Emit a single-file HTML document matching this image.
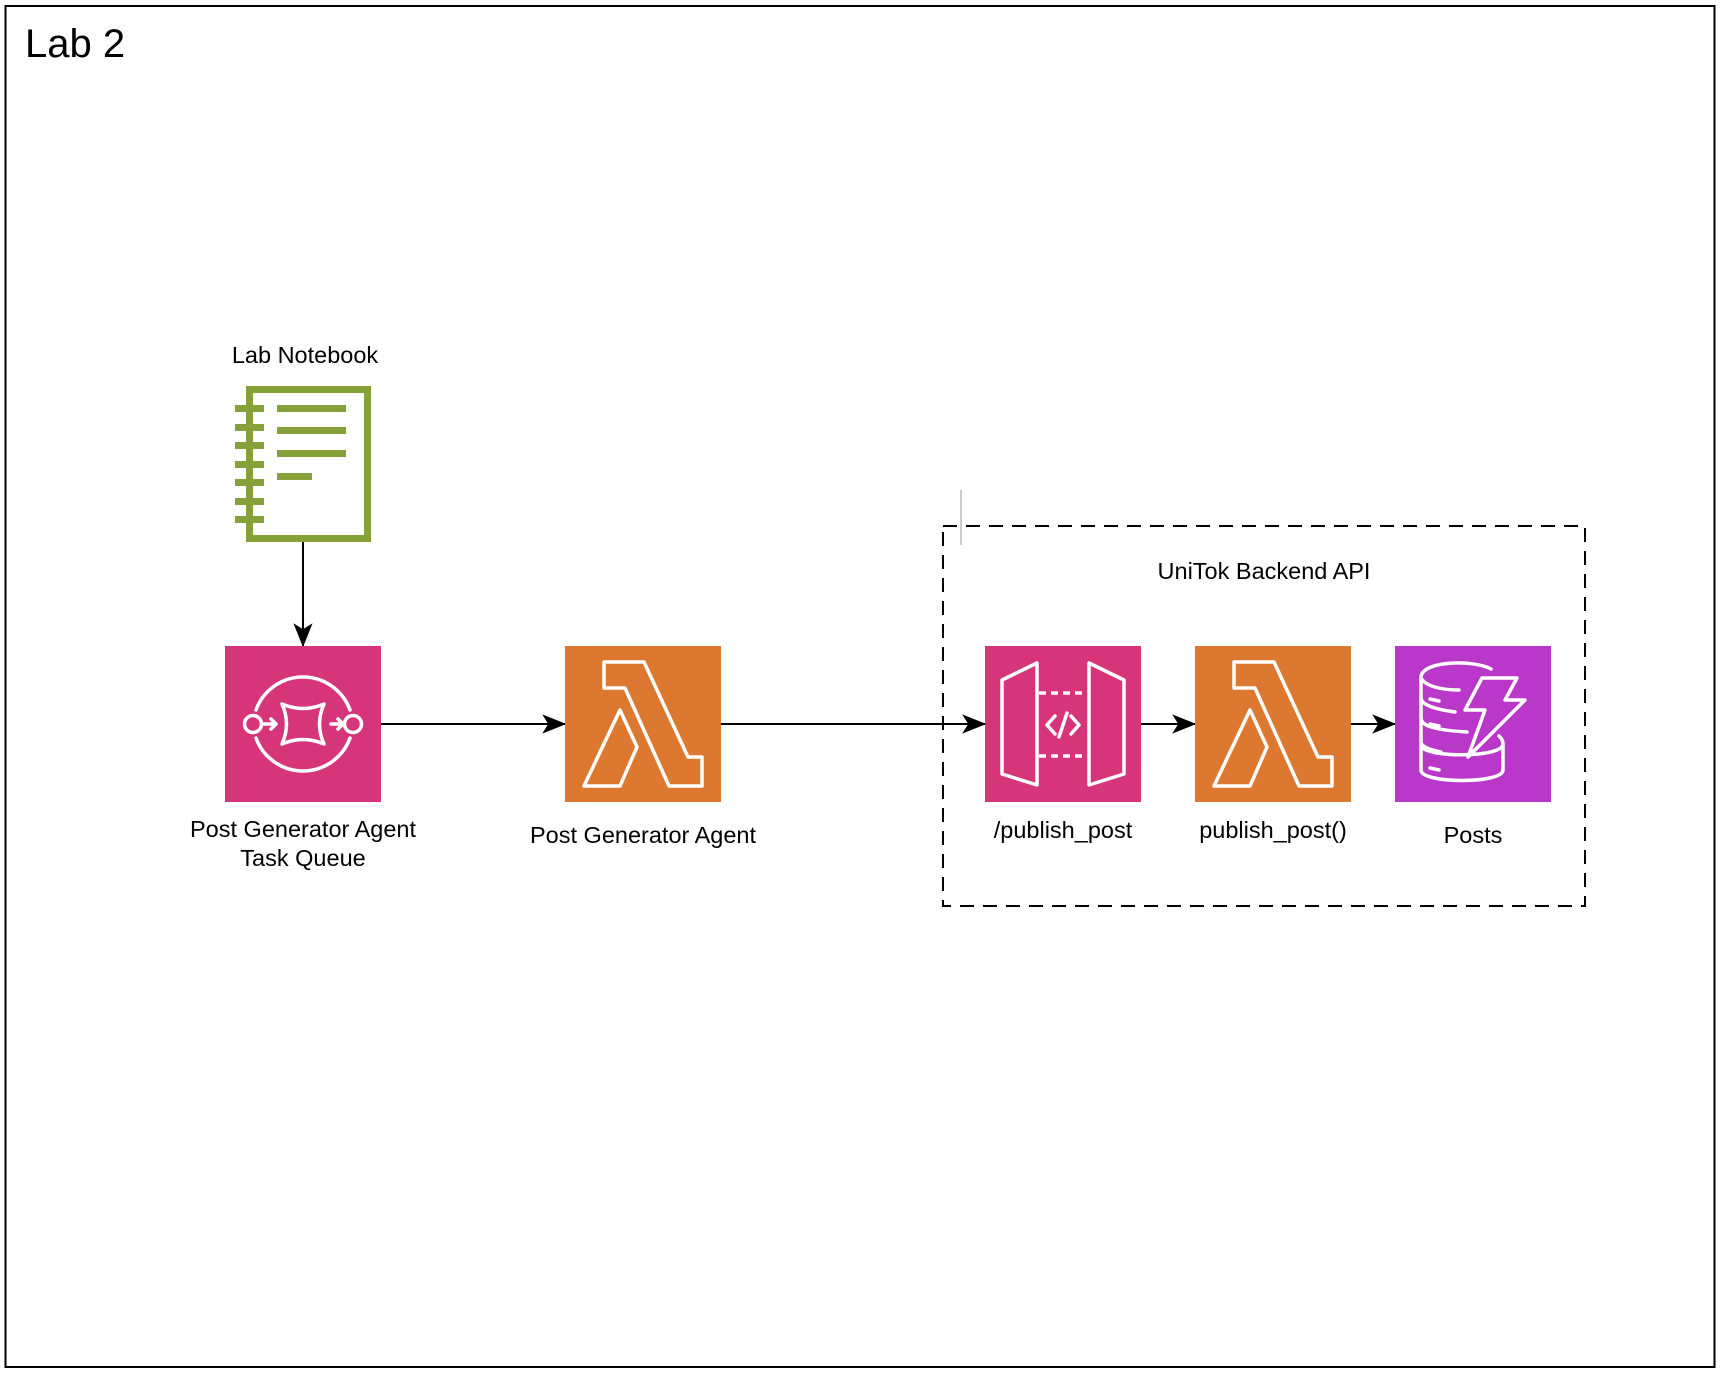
<!DOCTYPE html>
<html><head><meta charset="utf-8"><style>
html,body{margin:0;padding:0;background:#fff;}
svg{display:block;}
text{font-family:"Liberation Sans",Arial,sans-serif;fill:#000;}
</style></head><body>
<svg width="1724" height="1374" viewBox="0 0 1724 1374" xmlns="http://www.w3.org/2000/svg">
<defs>
<marker id="ah" viewBox="0 0 20 20" refX="19" refY="10" markerWidth="24" markerHeight="24" markerUnits="userSpaceOnUse" orient="auto">
<path d="M0,2 L20,10 L0,18 L5,10 Z" fill="#000"/>
</marker>
</defs>
<rect x="5.5" y="6" width="1709" height="1361" fill="#fff" stroke="#000" stroke-width="2"/>
<text x="25" y="57" font-size="40">Lab 2</text>

<!-- dashed group -->
<rect x="943" y="526" width="642" height="380" fill="none" stroke="#000" stroke-width="2" stroke-dasharray="14,9"/>
<line x1="961" y1="490" x2="961" y2="545" stroke="#ccc" stroke-width="2"/>
<text x="1264" y="579" font-size="23.5" text-anchor="middle">UniTok Backend API</text>

<!-- notebook -->
<text x="305" y="363" font-size="23.5" text-anchor="middle">Lab Notebook</text>
<g fill="#86A03A">
<path d="M246,386 H371 V542 H246 Z M253,393 V535 H364 V393 Z" fill-rule="evenodd"/>
<rect x="235" y="405" width="29" height="7"/>
<rect x="235" y="424" width="29" height="7"/>
<rect x="235" y="442" width="29" height="7"/>
<rect x="235" y="461" width="29" height="7"/>
<rect x="235" y="479" width="29" height="7"/>
<rect x="235" y="498" width="29" height="7"/>
<rect x="235" y="516" width="29" height="7"/>
<rect x="277" y="405" width="69" height="7"/>
<rect x="277" y="427" width="69" height="7"/>
<rect x="277" y="450" width="69" height="7"/>
<rect x="277" y="473" width="35" height="7"/>
</g>

<!-- connectors -->
<g stroke="#000" stroke-width="2" fill="none" marker-end="url(#ah)">
<line x1="303" y1="542" x2="303" y2="646"/>
<line x1="381" y1="724" x2="565" y2="724"/>
<line x1="721" y1="724" x2="985" y2="724"/>
<line x1="1141" y1="724" x2="1195" y2="724"/>
<line x1="1351" y1="724" x2="1395" y2="724"/>
</g>

<!-- SQS -->
<rect x="225" y="646" width="156" height="156" fill="#D63579"/>
<g transform="translate(225,646)" fill="none" stroke="#fff" stroke-width="3.5" stroke-linecap="round" stroke-linejoin="round">
<path d="M31,64 A50,50 0 0 1 125,64"/>
<path d="M31,92 A50,50 0 0 0 125,92"/>
<circle cx="28" cy="78" r="8.5"/>
<circle cx="128" cy="78" r="8.5"/>
<path d="M39,78 H50 M46,73 L51,78 L46,83"/>
<path d="M106,78 H117 M113,73 L118,78 L113,83"/>
<path d="M57,58 Q78,67 99,58 Q90,78 99,98 Q78,89 57,98 Q66,78 57,58 Z"/>
</g>

<!-- Lambda 1 -->
<rect x="565" y="646" width="156" height="156" fill="#DD7830"/>
<g transform="translate(565,646)" fill="none" stroke="#fff" stroke-width="3.5" stroke-linejoin="round">
<path d="M39,16 H79 L123,111 H137 V140 H104 L60,42 H39 Z"/>
<path d="M55,64 L72,101 L55,140 H19 Z"/>
</g>
<text x="643" y="843" font-size="23.5" text-anchor="middle">Post Generator Agent</text>
<text x="303" y="837" font-size="23.5" text-anchor="middle">Post Generator Agent</text>
<text x="303" y="866" font-size="23.5" text-anchor="middle">Task Queue</text>

<!-- API gateway -->
<rect x="985" y="646" width="156" height="156" fill="#D63579"/>
<g transform="translate(985,646)" fill="none" stroke="#fff" stroke-width="3.5" stroke-linejoin="round">
<path d="M17,34 L52,17 V139 L17,128 Z"/>
<path d="M104,17 L139,34 V128 L104,139 Z"/>
<path d="M54,47 H102 M54,110 H102" stroke-dasharray="7,5"/>
<path d="M70,70 L62,79 L70,88 M86,70 L94,79 L86,88 M82,67 L74,91" stroke-linecap="round"/>
</g>
<text x="1063" y="838" font-size="23.5" text-anchor="middle">/publish_post</text>

<!-- Lambda 2 -->
<rect x="1195" y="646" width="156" height="156" fill="#DD7830"/>
<g transform="translate(1195,646)" fill="none" stroke="#fff" stroke-width="3.5" stroke-linejoin="round">
<path d="M39,16 H79 L123,111 H137 V140 H104 L60,42 H39 Z"/>
<path d="M55,64 L72,101 L55,140 H19 Z"/>
</g>
<text x="1273" y="838" font-size="23.5" text-anchor="middle">publish_post()</text>

<!-- DynamoDB -->
<rect x="1395" y="646" width="156" height="156" fill="#B938CA"/>
<g transform="translate(1395,646)" fill="none" stroke="#fff" stroke-width="3.5" stroke-linejoin="round" stroke-linecap="round">
<path d="M96,23 C80,14 30,14 26,30 V52 C26,58 38,63 60,66"/>
<path d="M26,32 C30,40 46,44 64,44"/>
<path d="M26,52 V72 C26,80 40,84 72,86"/>
<path d="M26,74 V96 C26,100 34,104 46,106"/>
<path d="M26,98 V124 C26,138 108,138 108,124 V98 C108,94 106,92 104,90"/>
<path d="M26,100 C30,112 108,112 108,98"/>
<path d="M35,53 L44,55 M35,78 L44,80 M35,122 L44,124"/>
<path d="M87,32 H122 L110,54 H130 L73,111 L90,64 H70 Z"/>
</g>
<text x="1473" y="843" font-size="23.5" text-anchor="middle">Posts</text>
</svg>
</body></html>
